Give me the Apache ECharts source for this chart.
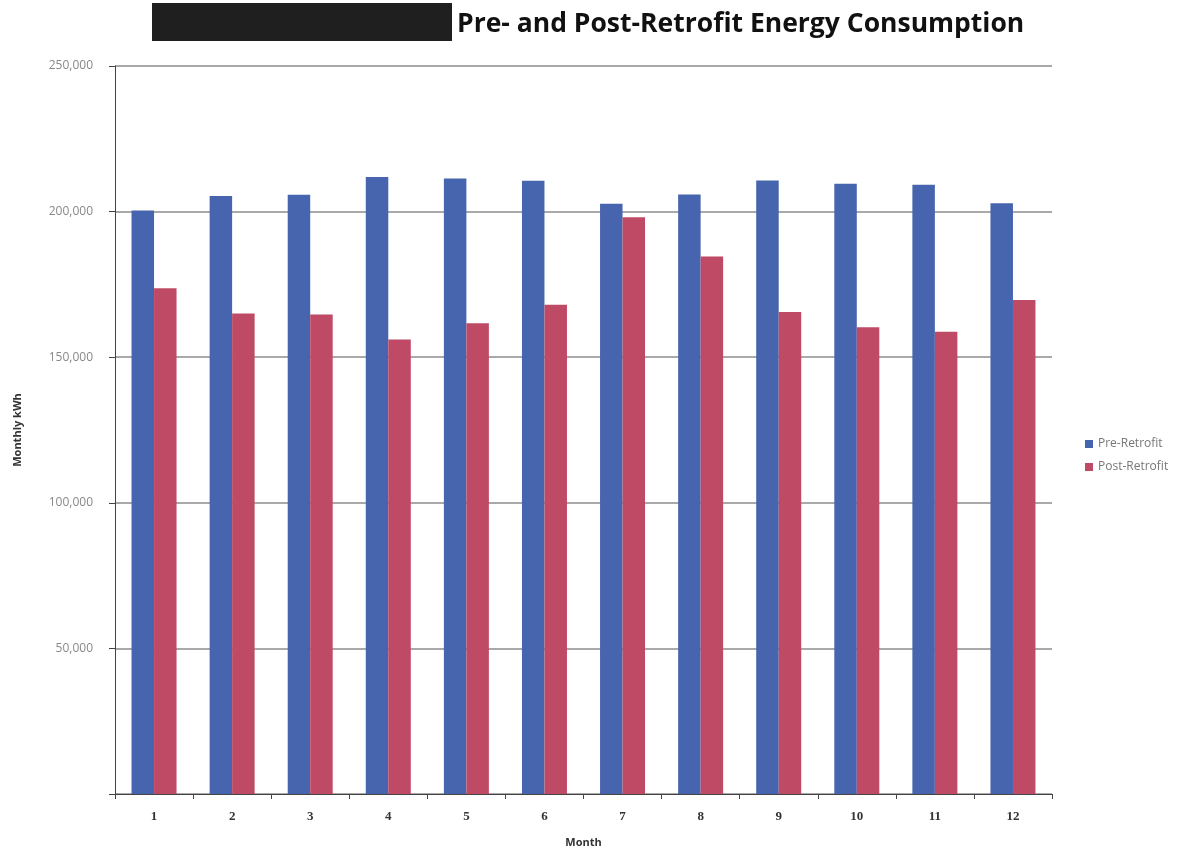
<!DOCTYPE html>
<html><head><meta charset="utf-8">
<script src="https://cdn.jsdelivr.net/npm/echarts@6/dist/echarts.min.js"></script>
<style>html,body{margin:0;padding:0;background:#fff}#c{width:1193px;height:854px}</style>
</head><body><div id="c"></div>
<script>
var months = ['1','2','3','4','5','6','7','8','9','10','11','12'];
var preRetrofit = [200400, 205400, 205800, 211900, 211400, 210600, 202700, 205900, 210700, 209600, 209200, 202900];
var postRetrofit = [173700, 165000, 164700, 156100, 161700, 168000, 198100, 184600, 165500, 160300, 158700, 169600];
var yTicks = [0, 50000, 100000, 150000, 200000, 250000];

var chart = echarts.init(document.getElementById('c'), null, {renderer:'canvas'});
chart.setOption({
  animation:false,
  backgroundColor:'#fff',
  graphic:[
    {type:'rect', left:152, top:3, shape:{width:300, height:38}, style:{fill:'#1f1f1f'}},
    {type:'text', left:457, top:11, style:{text:'Pre- and Post-Retrofit Energy Consumption', font:'bold 26.5px "Open Sans", sans-serif', fill:'#111'}}
  ],
  legend:{
    orient:'vertical', left:1080, top:433, itemWidth:8, itemHeight:8, itemGap:11,
    icon:'rect',
    textStyle:{color:'#777', fontSize:12, fontFamily:'"Open Sans", sans-serif'},
    data:['Pre-Retrofit','Post-Retrofit']
  },
  grid:{left:115, right:141, top:66, bottom:60, containLabel:false},
  xAxis:{
    type:'category', data:months,
    name:'Month', nameLocation:'middle', nameGap:43,
    nameTextStyle:{fontWeight:'bold', fontSize:11, color:'#333', fontFamily:'"Open Sans", sans-serif'},
    axisLine:{lineStyle:{color:'#444', width:1}},
    axisTick:{show:true, alignWithLabel:false, length:5, lineStyle:{color:'#444'}},
    axisLabel:{margin:16, fontSize:13, fontWeight:'bold', color:'#333', fontFamily:'"Liberation Serif", serif'}
  },
  yAxis:{
    type:'value', min:yTicks[0], max:yTicks[yTicks.length-1], interval:50000,
    name:'Monthly kWh', nameLocation:'middle', nameGap:92, nameRotate:90,
    nameTextStyle:{fontWeight:'bold', fontSize:11, color:'#333', fontFamily:'"Open Sans", sans-serif'},
    axisLine:{show:true, lineStyle:{color:'#444', width:1}},
    axisTick:{show:true, length:6, lineStyle:{color:'#444'}},
    axisLabel:{margin:22, fontSize:12, color:'#888', fontFamily:'"Open Sans", sans-serif',
      formatter:function(v){return v===0?'':v.toLocaleString('en-US');}},
    splitLine:{lineStyle:{color:'#8c8c8c', width:1.5}}
  },
  series:[
    {name:'Pre-Retrofit', type:'bar', data:preRetrofit, barWidth:22.5, barGap:'0%', itemStyle:{color:'#4765ae'}},
    {name:'Post-Retrofit', type:'bar', data:postRetrofit, barWidth:22.5, barGap:'0%', itemStyle:{color:'#bf4a66'}}
  ]
});
</script></body></html>
